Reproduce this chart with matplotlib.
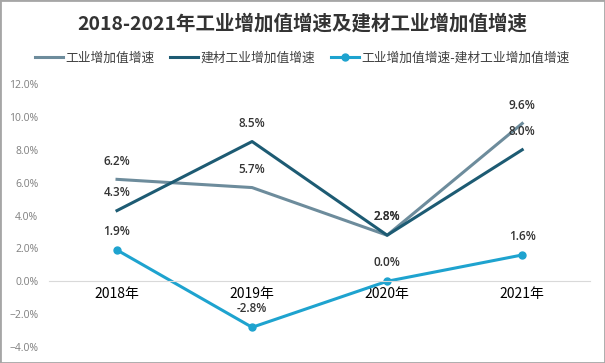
import matplotlib.pyplot as plt
from matplotlib.patches import Rectangle
from matplotlib.ticker import PercentFormatter

plt.rcParams['font.family'] = ['Noto Sans CJK SC', 'DejaVu Sans']

years = ['2018年', '2019年', '2020年', '2021年']
industry = [6.2, 5.7, 2.8, 9.6]
building = [4.3, 8.5, 2.8, 8.0]
diff = [1.9, -2.8, 0.0, 1.6]

names = ['工业增加值增速', '建材工业增加值增速', '工业增加值增速-建材工业增加值增速']
colors = ['#6d8c9c', '#1d5b73', '#1ea3cf']

fig = plt.figure(figsize=(6.05, 3.63), dpi=100)
ax = fig.add_axes([0.0818, 0.044, 0.893, 0.7246])

x = range(len(years))
ax.plot(x, industry, color=colors[0], lw=2.2, label=names[0])
ax.plot(x, building, color=colors[1], lw=2.2, label=names[1])
ax.plot(x, diff, color=colors[2], lw=2.2, marker='o', ms=5, label=names[2])

for series in (industry, building, diff):
    for i, v in enumerate(series):
        ax.annotate(f'{v:.1f}%', (i, v), xytext=(0, 8.5), textcoords='offset points',
                    ha='center', va='bottom', fontsize=8.5, color='#333333',
                    fontweight='semibold', family=['Open Sans', 'DejaVu Sans'], zorder=5)

ax.set_xlim(-0.5, 3.5)
ax.set_ylim(-4, 12)
ax.set_yticks(range(-4, 13, 2))
ax.yaxis.set_major_formatter(PercentFormatter(decimals=1))
ax.set_xticks(list(x))
ax.set_xticklabels(years, fontsize=9.5, fontweight='bold', color='#333333')

for s in ('top', 'right', 'left'):
    ax.spines[s].set_visible(False)
ax.spines['bottom'].set_position(('data', 0))
ax.spines['bottom'].set_color('#d9d9d9')
ax.tick_params(axis='x', length=0, pad=4)
ax.tick_params(axis='y', length=0, pad=8, labelsize=7.5, labelcolor='#7f7f7f')
for t in ax.get_yticklabels():
    t.set_family(['Open Sans', 'DejaVu Sans'])

fig.text(0.5, 0.934, '2018-2021年工业增加值增速及建材工业增加值增速', ha='center', va='center',
         fontsize=14, fontweight='bold', color='#333333')
fig.legend(loc='center', bbox_to_anchor=(0.5, 0.84), ncol=3, frameon=False, fontsize=9.2,
           handlelength=2.2, handletextpad=0.2, columnspacing=1.2, labelcolor='#404040')

fig.patches.append(Rectangle((0, 0), 1, 1, transform=fig.transFigure, fill=False,
                             edgecolor='#a6a6a6', lw=2))

fig.savefig('out.png', dpi=100)
